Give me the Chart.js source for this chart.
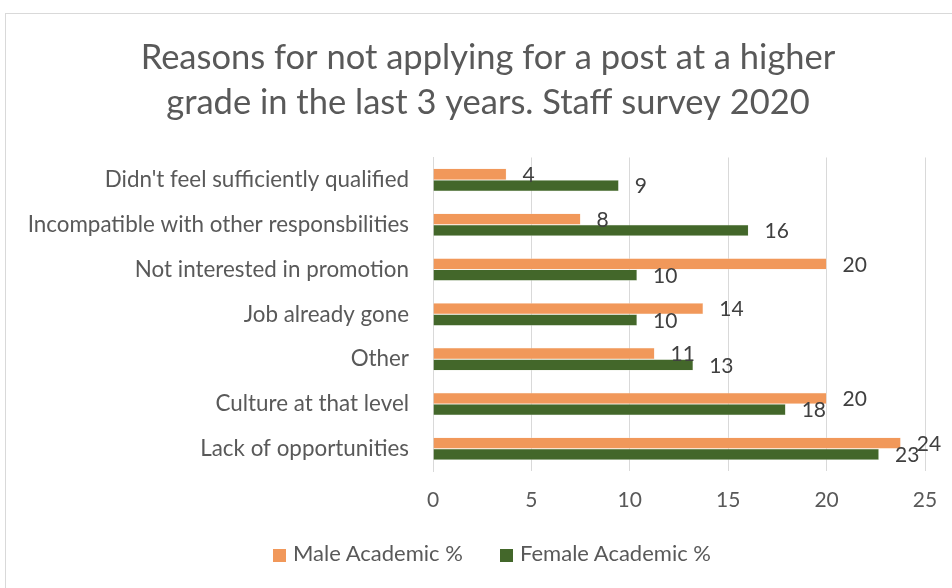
<!DOCTYPE html>
<html>
<head>
<meta charset="utf-8">
<script src="https://cdn.jsdelivr.net/npm/chart.js@4.4.1/dist/chart.umd.min.js"></script>
<style>
  html, body { margin: 0; padding: 0; background: #fff; overflow: hidden; }
  #box { position: absolute; left: 5px; top: 13px; width: 966px; height: 600px;
         border: 1px solid #d9d9d9; box-sizing: border-box; }
  #wrap { position: absolute; left: -1px; top: -1px; width: 966px; height: 600px; }
  #legend { position: absolute; top: 540px; left: 0; width: 100%; font: 22px Lato, sans-serif; color: #595959; }
  #legend span.item { position: absolute; top: 0; white-space: nowrap; line-height: 26px; }
  #legend i { display: inline-block; width: 13px; height: 13px; margin-right: 7px; vertical-align: -1px; }
</style>
</head>
<body>
<div id="box"><div id="wrap"><canvas id="myChart"></canvas></div></div>
<div id="legend"></div>
<script>
// survey data (percent)
const reasons = [
  "Didn't feel sufficiently qualified",
  'Incompatible with other responsbilities',
  'Not interested in promotion',
  'Job already gone',
  'Other',
  'Culture at that level',
  'Lack of opportunities'
];
const maleAcademic   = [3.73, 7.5, 20.0, 13.73, 11.26, 20.0, 23.77];
const femaleAcademic = [9.44, 16.03, 10.37, 10.37, 13.22, 17.92, 22.66];
const xTicks = [0, 5, 10, 15, 20, 25];

const FONT = 'Lato, "Open Sans", sans-serif';
const GREY = '#595959';

// rounded value labels just past the bar end
const barLabels = {
  id: 'barLabels',
  afterDatasetsDraw(chart) {
    const ctx = chart.ctx;
    ctx.save();
    ctx.font = '21px ' + FONT;
    ctx.fillStyle = '#404040';
    ctx.textAlign = 'left';
    ctx.textBaseline = 'middle';
    chart.data.datasets.forEach((ds, i) => {
      chart.getDatasetMeta(i).data.forEach((bar, j) => {
        ctx.fillText(Math.round(ds.data[j]), bar.x + 16, bar.y + 1);
      });
    });
    ctx.restore();
  }
};

const ctx = document.getElementById('myChart').getContext('2d');
const chart = new Chart(ctx, {
  type: 'bar',
  data: {
    labels: reasons,
    datasets: [
      { label: 'Male Academic %', data: maleAcademic, backgroundColor: '#f1985a',
        borderColor: '#fbe3d2', borderWidth: 0.5, categoryPercentage: 0.505, barPercentage: 1.0 },
      { label: 'Female Academic %', data: femaleAcademic, backgroundColor: '#43672a',
        borderColor: '#d9e3cf', borderWidth: 0.5, categoryPercentage: 0.505, barPercentage: 1.0 }
    ]
  },
  options: {
    indexAxis: 'y',
    responsive: true,
    maintainAspectRatio: false,
    animation: false,
    layout: { padding: { left: 0, right: 0, top: 0, bottom: 84.2 } },
    plugins: {
      title: {
        display: true,
        text: ['Reasons for not applying for a post at a higher', 'grade in the last 3 years. Staff survey 2020'],
        color: GREY,
        font: { family: FONT, size: 34.5, weight: 'normal', lineHeight: 1.304 },
        padding: { top: 22.5, bottom: 32 }
      },
      legend: { display: false },
      tooltip: { enabled: false }
    },
    scales: {
      x: {
        min: 0, max: 25,
        afterBuildTicks: (axis) => { axis.ticks = xTicks.map(v => ({ value: v })); },
        grid: { color: '#d9d9d9', drawTicks: false },
        border: { display: false },
        ticks: { color: GREY, font: { family: FONT, size: 21 }, padding: 16.2 }
      },
      y: {
        afterFit: (axis) => { axis.width = 428; },
        grid: { display: false, drawTicks: false },
        border: { color: '#d9d9d9' },
        ticks: { color: GREY, font: { family: FONT, size: 22.4 }, padding: 24 }
      },
      // empty right-hand spacer so the plot ends at 25 while the title stays centred
      spacer: {
        type: 'category', position: 'right', axis: 'y',
        afterFit: (axis) => { axis.width = 46; },
        grid: { display: false, drawTicks: false },
        border: { display: false },
        ticks: { display: false }
      }
    }
  },
  plugins: [barLabels]
});

// legend, same entries as the datasets
const legend = document.getElementById('legend');
const legendX = [273, 500];
chart.data.datasets.forEach((ds, i) => {
  const item = document.createElement('span');
  item.className = 'item';
  item.style.left = legendX[i] + 'px';
  item.innerHTML = `<i style="background:${ds.backgroundColor}"></i>${ds.label}`;
  legend.appendChild(item);
});
</script>
</body>
</html>
